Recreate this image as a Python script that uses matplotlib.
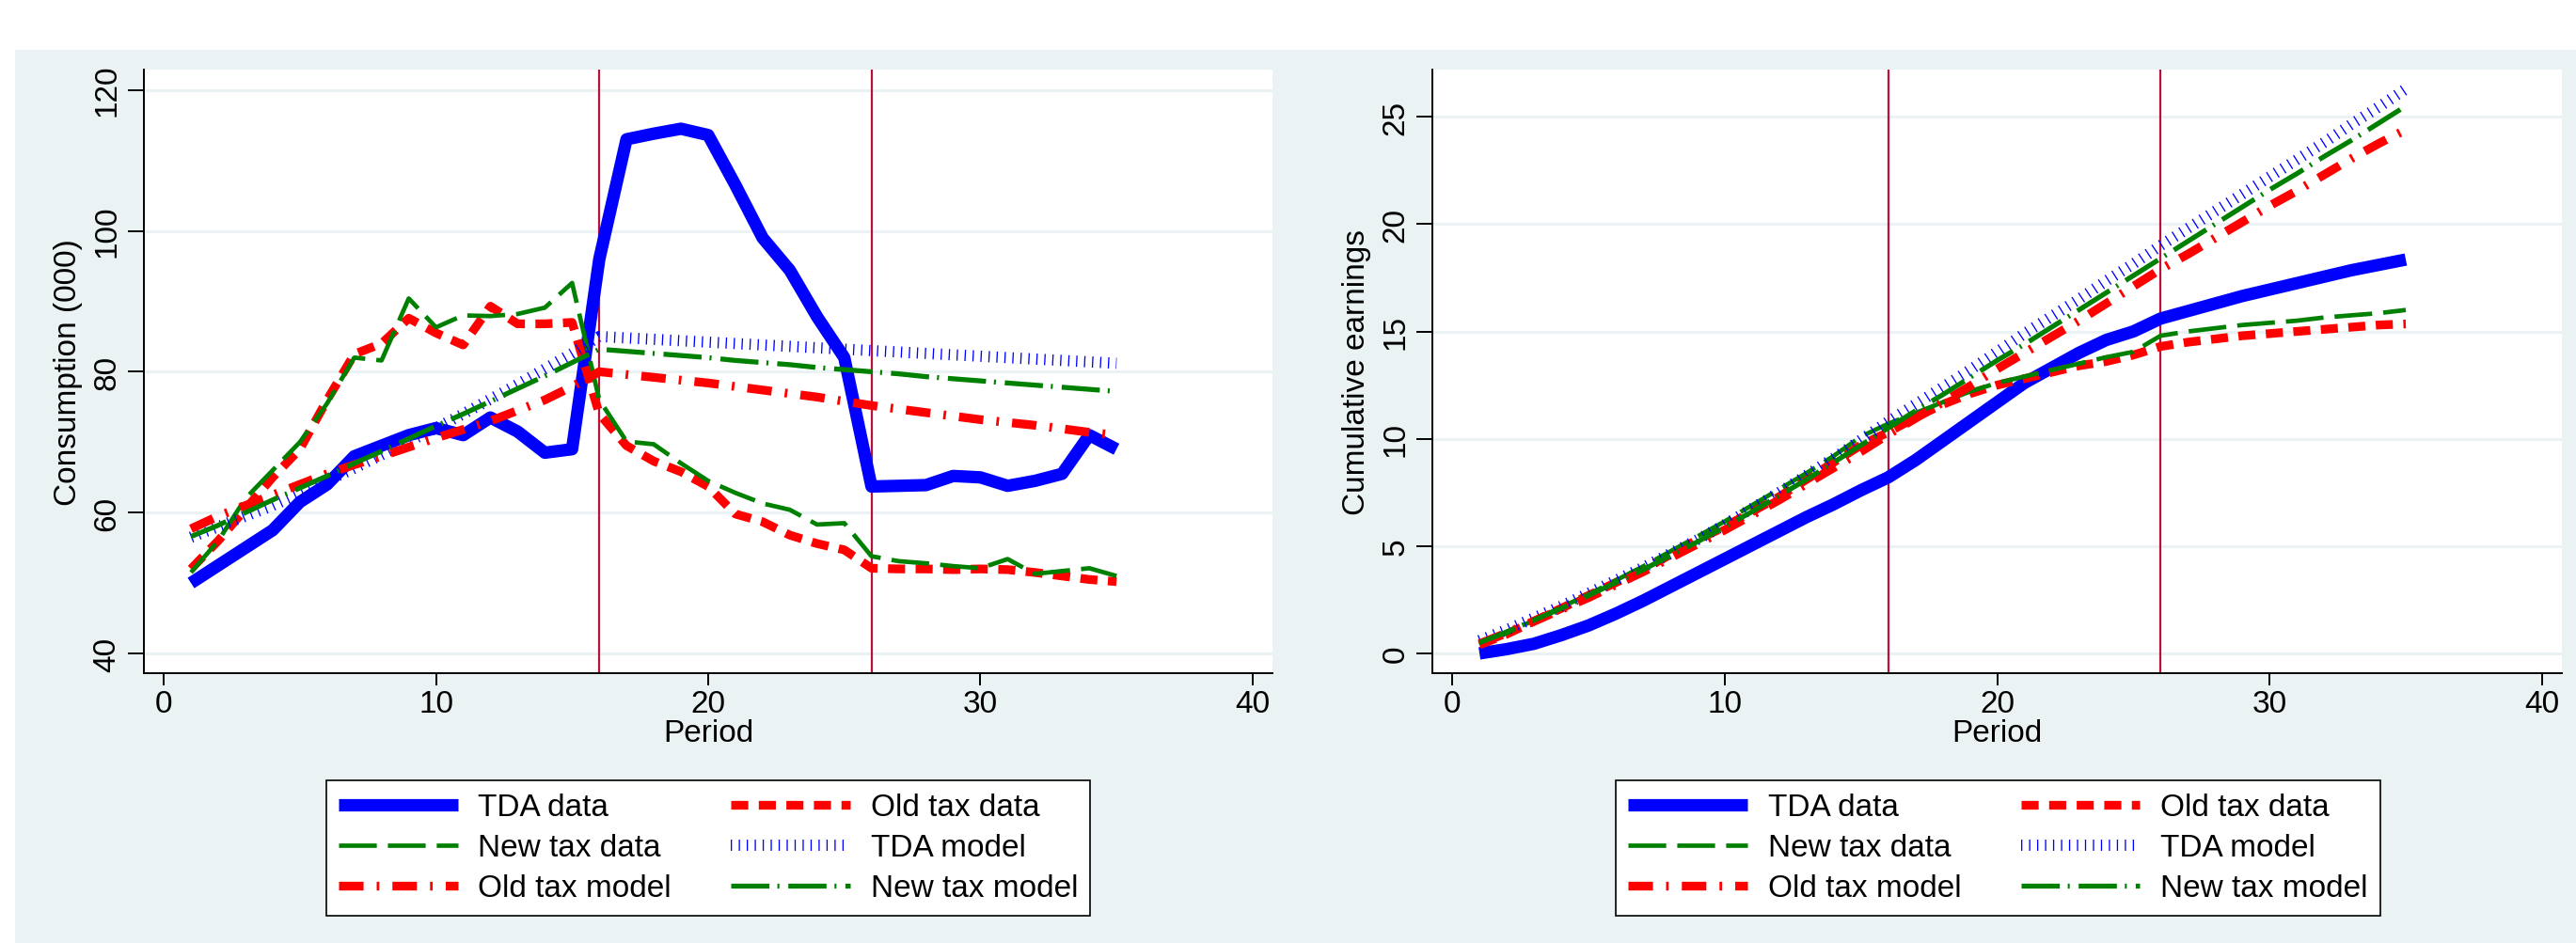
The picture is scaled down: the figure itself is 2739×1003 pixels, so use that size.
import numpy as np
import matplotlib
matplotlib.use("Agg")
import matplotlib.pyplot as plt
from matplotlib.patches import Rectangle

plt.rcParams['font.family'] = ['Liberation Sans', 'DejaVu Sans']

# 期間
period = list(range(1, 36))

# 消費 (000)
cons_tda_data = [50.0, 52.5, 55.0, 57.5, 61.5, 64.0, 68.0, 69.5, 71.0, 72.0,
                 71.0, 73.5, 71.5, 68.5, 69.0, 96.0, 113.0, 113.8, 114.5, 113.6,
                 106.5, 99.0, 94.4, 87.8, 82.0, 63.7, 63.8, 63.9, 65.2, 65.0,
                 63.8, 64.5, 65.5, 71.0, 69.0]
cons_old_data = [52.0, 56.0, 60.5, 65.0, 69.0, 76.0, 82.5, 84.0, 87.6, 85.5,
                 83.8, 89.3, 86.8, 86.8, 87.0, 74.0, 69.5, 67.3, 65.8, 63.7,
                 59.8, 58.7, 56.8, 55.6, 54.7, 52.1, 52.0, 52.0, 51.9, 52.0,
                 51.9, 51.5, 51.0, 50.5, 50.2]
cons_new_data = [51.5, 56.0, 62.0, 66.0, 70.0, 75.5, 82.0, 81.6, 90.4, 86.3,
                 88.0, 87.9, 88.2, 89.1, 92.6, 76.0, 70.1, 69.7, 67.0, 64.5,
                 62.8, 61.3, 60.4, 58.3, 58.5, 53.8, 53.1, 52.8, 52.4, 52.1,
                 53.4, 51.3, 51.7, 52.1, 51.0]
cons_tda_model = [56.5, 58.0, 59.5, 61.0, 62.7, 64.5, 66.3, 68.2, 70.1, 72.0,
                  74.0, 76.1, 78.2, 80.4, 82.6, 85.0, 84.8, 84.6, 84.4, 84.2,
                  84.0, 83.8, 83.6, 83.4, 83.2, 83.0, 82.8, 82.6, 82.4, 82.2,
                  82.0, 81.8, 81.6, 81.4, 81.2]
cons_old_model = [57.7, 59.5, 61.0, 62.5, 64.0, 65.5, 66.8, 68.0, 69.3, 70.6,
                  71.8, 73.0, 74.5, 76.0, 77.9, 80.0, 79.6, 79.2, 78.8, 78.4,
                  77.9, 77.4, 76.9, 76.4, 75.8, 75.2, 74.7, 74.2, 73.7, 73.2,
                  72.8, 72.4, 71.9, 71.4, 71.0]
cons_new_model = [56.6, 58.2, 60.0, 61.8, 63.5, 65.2, 67.0, 68.7, 70.5, 72.3,
                  74.0, 75.8, 77.6, 79.4, 81.3, 83.2, 82.9, 82.6, 82.3, 82.0,
                  81.6, 81.3, 81.0, 80.6, 80.3, 80.0, 79.7, 79.3, 79.0, 78.7,
                  78.4, 78.1, 77.8, 77.5, 77.2]

# 累積所得
earn_tda_data = [0.0, 0.2, 0.45, 0.85, 1.3, 1.85, 2.45, 3.1, 3.75, 4.4,
                 5.05, 5.7, 6.35, 6.95, 7.6, 8.2, 9.0, 9.9, 10.8, 11.7,
                 12.6, 13.3, 14.0, 14.6, 15.0, 15.6, 15.95, 16.3, 16.65, 16.95,
                 17.25, 17.55, 17.85, 18.1, 18.35]
earn_old_data = [0.4, 0.9, 1.5, 2.1, 2.7, 3.3, 3.9, 4.6, 5.3, 5.9,
                 6.6, 7.3, 8.1, 8.9, 9.7, 10.3, 11.0, 11.6, 12.1, 12.5,
                 12.8, 13.1, 13.4, 13.6, 13.9, 14.3, 14.5, 14.65, 14.8, 14.9,
                 15.0, 15.1, 15.2, 15.3, 15.35]
earn_new_data = [0.4, 0.95, 1.55, 2.15, 2.75, 3.4, 4.05, 4.75, 5.45, 6.15,
                 6.9, 7.65, 8.4, 9.2, 10.1, 10.7, 11.2, 11.7, 12.2, 12.6,
                 12.9, 13.2, 13.5, 13.8, 14.05, 14.8, 15.0, 15.15, 15.3, 15.4,
                 15.5, 15.65, 15.75, 15.85, 16.0]
earn_tda_model = [0.6, 1.1, 1.65, 2.2, 2.8, 3.4, 4.0, 4.65, 5.3, 6.0,
                  6.75, 7.5, 8.3, 9.1, 9.95, 10.8, 11.6, 12.4, 13.2, 14.05,
                  14.9, 15.7, 16.5, 17.35, 18.15, 19.0, 19.8, 20.6, 21.4, 22.2,
                  23.0, 23.8, 24.65, 25.45, 26.3]
earn_old_model = [0.45, 0.95, 1.5, 2.05, 2.6, 3.2, 3.8, 4.45, 5.1, 5.75,
                  6.45, 7.15, 7.9, 8.65, 9.4, 10.2, 10.95, 11.7, 12.45, 13.25,
                  14.0, 14.75, 15.5, 16.3, 17.1, 17.9, 18.6, 19.35, 20.1, 20.85,
                  21.55, 22.3, 23.05, 23.75, 24.4]
earn_new_model = [0.5, 1.0, 1.55, 2.1, 2.7, 3.3, 3.9, 4.55, 5.2, 5.9,
                  6.6, 7.35, 8.1, 8.9, 9.7, 10.5, 11.3, 12.05, 12.85, 13.65,
                  14.4, 15.2, 16.0, 16.8, 17.6, 18.4, 19.2, 20.0, 20.8, 21.6,
                  22.35, 23.15, 23.9, 24.7, 25.5]

labels = ["TDA data", "Old tax data", "New tax data",
          "TDA model", "Old tax model", "New tax model"]
vlines = [16, 26]

BG = "#EAF2F3"
styles = [
    dict(color="#0000FF", lw=9.5, ls="-", solid_joinstyle="round", solid_capstyle="butt"),
    dict(color="#FF0000", lw=6.7, ls=(0, (1.95, 1.2))),
    dict(color="#008000", lw=3.4, ls=(0, (8.5, 2.5))),
    dict(color="#0000FF", lw=8.6, ls=(0, (0.11, 0.6))),
    dict(color="#FF0000", lw=6.7, ls=(0, (2.8, 1.5, 0.3, 1.5))),
    dict(color="#008000", lw=3.8, ls=(0, (7.7, 1.6, 0.4, 1.8))),
]

W, H = 2739, 1004
fig = plt.figure(figsize=(W / 100, H / 100), dpi=100)
fig.patch.set_facecolor("white")
fig.patches.append(Rectangle((16 / W, 0), 1, (H - 54) / H, transform=fig.transFigure,
                             facecolor=BG, edgecolor="none", zorder=-10))


def make_panel(rect, series, ylim, yticks, ylabel, leg_x):
    ax = fig.add_axes(rect)
    ax.set_facecolor("white")
    for v in vlines:
        ax.axvline(v, color="#B5123D", lw=1.6, zorder=1)
    lines = []
    for s, st in zip(series, styles):
        ln, = ax.plot(period, s, zorder=2, **st)
        lines.append(ln)
    ax.set_xlim(-0.73, 40.73)
    ax.set_ylim(*ylim)
    ax.set_xticks([0, 10, 20, 30, 40])
    ax.set_yticks(yticks)
    ax.grid(axis="y", color=BG, lw=2.2, zorder=0)
    ax.set_axisbelow(True)
    for sp in ["top", "right"]:
        ax.spines[sp].set_visible(False)
    for sp in ["left", "bottom"]:
        ax.spines[sp].set_linewidth(1.4)
    ax.tick_params(axis="y", length=12, width=1.4, pad=5, labelsize=24, labelrotation=90)
    ax.tick_params(axis="x", length=9.5, width=1.4, pad=3, labelsize=24)
    for t in ax.get_yticklabels():
        t.set_va("center")
    ax.set_xlabel("Period", fontsize=24, labelpad=0)
    ax.set_ylabel(ylabel, fontsize=24)
    ax.yaxis.set_label_coords(-0.054, 0.5)
    # 凡例は行ごとに並べる
    order = [0, 2, 4, 1, 3, 5]
    leg = ax.legend([lines[i] for i in order], [labels[i] for i in order], ncol=2,
                    loc="upper center", bbox_to_anchor=(leg_x, 173 / H),
                    bbox_transform=fig.transFigure, fontsize=24, frameon=True,
                    fancybox=False, edgecolor="black", framealpha=1,
                    handlelength=3.8, handletextpad=0.65, columnspacing=1.9,
                    labelspacing=0.36, borderpad=0.4, borderaxespad=0)
    leg.get_frame().set_linewidth(1.2)
    return ax


make_panel([153 / W, (H - 717) / H, 1200 / W, 642 / H],
           [cons_tda_data, cons_old_data, cons_new_data,
            cons_tda_model, cons_old_model, cons_new_model],
           (37.2, 122.9), [40, 60, 80, 100, 120], "Consumption (000)", 753 / W)

make_panel([1523 / W, (H - 717) / H, 1201 / W, 642 / H],
           [earn_tda_data, earn_old_data, earn_new_data,
            earn_tda_model, earn_old_model, earn_new_model],
           (-0.92, 27.2), [0, 5, 10, 15, 20, 25], "Cumulative earnings", 2124.5 / W)

fig.savefig("out.png", dpi=100)
